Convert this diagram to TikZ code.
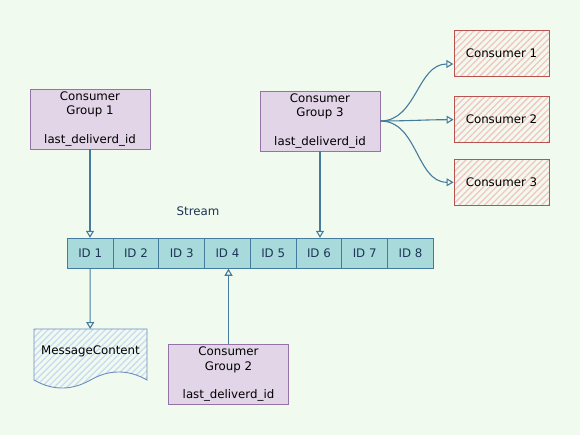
\documentclass[tikz,border=0pt]{standalone}
\usepackage{fontspec}
\setmainfont{DejaVu Sans}
\usetikzlibrary{arrows.meta,patterns.meta,calc}
\definecolor{bg}{HTML}{F1FAEE}
\definecolor{cellfill}{HTML}{A8DADC}
\definecolor{cellline}{HTML}{457B9D}
\definecolor{navy}{HTML}{1D3557}
\definecolor{grpfill}{HTML}{E1D5E7}
\definecolor{grpline}{HTML}{9673A6}
\definecolor{redline}{HTML}{B85450}
\definecolor{redhatch}{HTML}{F4C4C2}
\definecolor{blueline}{HTML}{6C8EBF}
\definecolor{bluehatch}{HTML}{C9DBF3}
\tikzset{
  txt/.style={font=\fontsize{11.8}{14.3}\selectfont},
  grp/.style={txt, draw=grpline, fill=grpfill, line width=0.9pt, minimum width=120pt, minimum height=60pt, align=center, inner sep=0pt},
  cons/.style={txt, draw=redline, line width=0.9pt, minimum width=95pt, minimum height=46pt, inner sep=0pt,
    preaction={fill=bg}, pattern={Lines[angle=45,distance=4.5pt,line width=1.3pt]}, pattern color=redhatch},
  cell/.style={txt, text=navy, draw=cellline, fill=cellfill, line width=0.9pt, minimum width=45.75pt, minimum height=30pt, inner sep=0pt},
  conn/.style={draw=cellline, line width=1.1pt, -{Triangle[open,length=7pt,width=8pt]}},
}
\begin{document}
\begin{tikzpicture}[x=1pt,y=-1pt]
\fill[bg] (0,0) rectangle (580,435);
\useasboundingbox (0,0) rectangle (580,435);

% stream cells
\foreach \i in {1,...,8}{
  \node[cell] (id\i) at ({67.3+45.75*(\i-0.5)},253.3) {ID \i};
}
\node[txt, text=navy] (stream) at (198,211) {Stream};

% consumer groups
\node[grp] (g1) at (90,119) {Consumer\\Group 1\\[14.3pt]last\_deliverd\_id};
\node[grp] (g3) at (320,121) {Consumer\\Group 3\\[14.3pt]last\_deliverd\_id};
\node[grp] (g2) at (228.5,374.3) {Consumer\\Group 2\\[14.3pt]last\_deliverd\_id};

% consumers
\node[cons] (c1) at (501.5,53.5) {Consumer 1};
\node[cons] (c2) at (501.5,119.7) {Consumer 2};
\node[cons] (c3) at (501.5,182.3) {Consumer 3};

% message content document shape
\filldraw[draw=blueline, line width=0.9pt, preaction={fill=bg},
  pattern={Lines[angle=45,distance=4.5pt,line width=1.3pt]}, pattern color=bluehatch]
  (34,329) -- (147,329) -- (147,380)
  .. controls (128.3,369.3) and (109.2,369.3) .. (90.5,380)
  .. controls (71.5,390.7) and (52.7,390.7) .. (34,380) -- cycle;
\node[txt] (mc) at (90.5,351) {MessageContent};
\coordinate (mctop) at (90.2,329);

% connectors
\draw[conn] (g1.south) -- (g1.south |- id1.north);
\draw[conn] (g3.south) -- (g3.south |- id6.north);
\draw[conn] (g2.north) -- (g2.north |- id4.south);
\draw[conn] (id1.south) -- (mctop);
\draw[conn] (g3.east) to[out=0,in=180] ([yshift=-10.5pt]c1.west);
\draw[conn] (g3.east) to[out=0,in=180] (c2.west);
\draw[conn] (g3.east) to[out=0,in=180] (c3.west);
\end{tikzpicture}
\end{document}
